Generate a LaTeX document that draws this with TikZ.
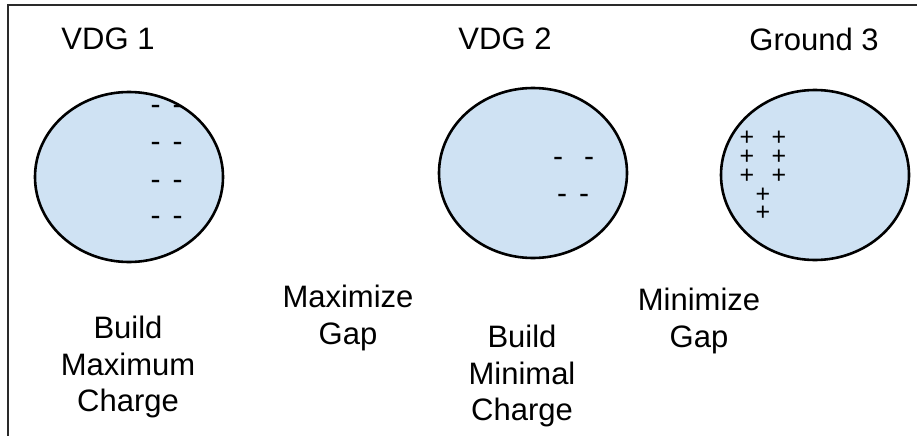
\documentclass[tikz,border=0pt]{standalone}
\usepackage{fontspec}
\setmainfont{Liberation Sans}
\usetikzlibrary{shapes.geometric}
\definecolor{ballfill}{HTML}{CFE2F3}
\definecolor{framecol}{HTML}{2A2A2A}
\begin{document}
\begin{tikzpicture}[x=1pt,y=-1pt,
  ball/.style={ellipse,draw=black,line width=2.6pt,fill=ballfill,inner sep=0pt,minimum width=188pt,minimum height=170pt},
  lbl/.style={font=\fontsize{31}{36.5}\selectfont,align=center,anchor=north,inner sep=0pt},
  minus/.style={font=\fontsize{30}{30}\selectfont,anchor=base,inner sep=0pt},
  plussign/.style={font=\fontsize{25}{18.75}\selectfont,align=center,anchor=north,inner sep=0pt}]
\useasboundingbox (0,0) rectangle (917,436);
\fill[white] (0,0) rectangle (917,436);
% frame
\coordinate (ftr) at (917,5);
\coordinate (ftl) at (8,5);
\coordinate (fbl) at (8,436);
\draw[framecol,line width=2pt] (ftr) -- (ftl) -- (fbl);
% spheres
\node[ball] (vdg1) at (129,177) {};
\node[ball] (vdg2) at (533,173) {};
\node[ball] (gnd3) at (815,175) {};
% titles
\node[lbl] (t1) at (108,28) {VDG 1};
\node[lbl] (t2) at (505,28) {VDG 2};
\node[lbl] (t3) at (814,28) {Ground 3};
% captions
\node[lbl] (c1) at (128,316) {Build\\Maximum\\Charge};
\node[lbl] (c2) at (348,285) {Maximize\\Gap};
\node[lbl] (c3) at (522,325) {Build\\Minimal\\Charge};
\node[lbl] (c4) at (699,288) {Minimize\\Gap};
% negative charges on VDG 1
\node[minus] (m11) at (166.5,114.7) {-\hspace{12pt}-};
\node[minus] (m12) at (166.5,151.7) {-\hspace{12pt}-};
\node[minus] (m13) at (166.5,189.7) {-\hspace{12pt}-};
\node[minus] (m14) at (166.5,225.7) {-\hspace{12pt}-};
% negative charges on VDG 2
\node[minus] (m21) at (573.5,166.7) {-\hspace{21pt}-};
\node[minus] (m22) at (573,203.7) {-\hspace{12pt}-};
% positive charges on Ground 3
\node[plussign] (pp) at (763,131.2) {+\hspace{17.4pt}+\\+\hspace{17.4pt}+\\+\hspace{17.4pt}+\\+\\+};
\end{tikzpicture}
\end{document}
